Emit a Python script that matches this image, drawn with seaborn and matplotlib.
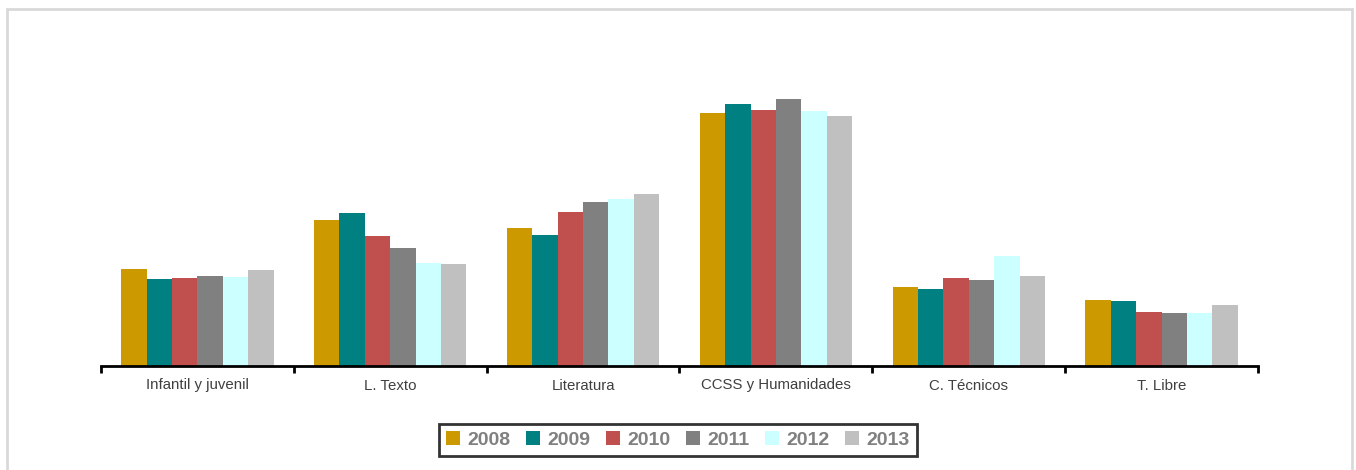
import matplotlib
matplotlib.use("Agg")
import matplotlib.pyplot as plt
import seaborn as sns
import pandas as pd
from matplotlib.patches import Rectangle
from matplotlib.ticker import FixedLocator

categories = ["Infantil y juvenil", "L. Texto", "Literatura", "CCSS y Humanidades", "C. Técnicos", "T. Libre"]
years = ["2008", "2009", "2010", "2011", "2012", "2013"]
v2008 = [97, 146, 138, 253, 79, 66]
v2009 = [87, 153, 131, 262, 77, 65]
v2010 = [88, 130, 154, 256, 88, 54]
v2011 = [90, 118, 164, 267, 86, 53]
v2012 = [89, 103, 167, 255, 110, 53]
v2013 = [96, 102, 172, 250, 90, 61]
colors = ["#CC9900", "#008080", "#C0504D", "#808080", "#CCFFFF", "#C0C0C0"]

series = [v2008, v2009, v2010, v2011, v2012, v2013]
rows = []
for y, vals in zip(years, series):
    for c, v in zip(categories, vals):
        rows.append({"cat": c, "year": y, "val": v})
df = pd.DataFrame(rows)

sns.set_style("white")
plt.rcParams["font.family"] = ["Liberation Sans", "DejaVu Sans"]

W, H = 1356, 470
fig = plt.figure(figsize=(W / 100, H / 100), dpi=100)
ax_left, ax_right = 101 / W, 1258 / W
ax_bottom = (H - 366) / H
ax_top = (H - 30) / H
ax = fig.add_axes([ax_left, ax_bottom, ax_right - ax_left, ax_top - ax_bottom])

sns.barplot(data=df, x="cat", y="val", hue="year", palette=colors, ax=ax,
            width=0.79, saturation=1, legend=True, linewidth=0)

ax.set_xlim(-0.5, 5.5)
ax.set_ylim(0, 336)
ax.set_xlabel("")
ax.set_ylabel("")
ax.set_yticks([])
for s in ["top", "right", "left"]:
    ax.spines[s].set_visible(False)
ax.spines["bottom"].set_color("black")
ax.spines["bottom"].set_linewidth(2)
ax.xaxis.set_minor_locator(FixedLocator([i - 0.5 for i in range(7)]))
ax.tick_params(axis="x", which="major", length=0, pad=9, labelsize=10.8, labelcolor="#404040")
ax.tick_params(axis="x", which="minor", length=5, width=2, color="black", direction="out", bottom=True)

old = ax.get_legend()
if old is not None:
    old.remove()
handles, labels = ax.get_legend_handles_labels()
leg = fig.legend(handles, labels, loc="center", bbox_to_anchor=(678 / W, 1 - 440 / H),
                 ncol=6, frameon=True, fancybox=False, handlelength=0.7, handleheight=0.7,
                 handletextpad=0.4, columnspacing=0.8, borderpad=0.35,
                 prop={"weight": "bold", "size": 14})
leg.get_frame().set_edgecolor("black")
leg.get_frame().set_linewidth(2)
for t in leg.get_texts():
    t.set_color("#808080")

fig.patches.append(Rectangle((7 / W, -0.05), (1352 - 7) / W, (H - 9) / H + 0.05,
                             transform=fig.transFigure, fill=False,
                             edgecolor="#D9D9D9", linewidth=2))

fig.savefig("out.png", dpi=100)
